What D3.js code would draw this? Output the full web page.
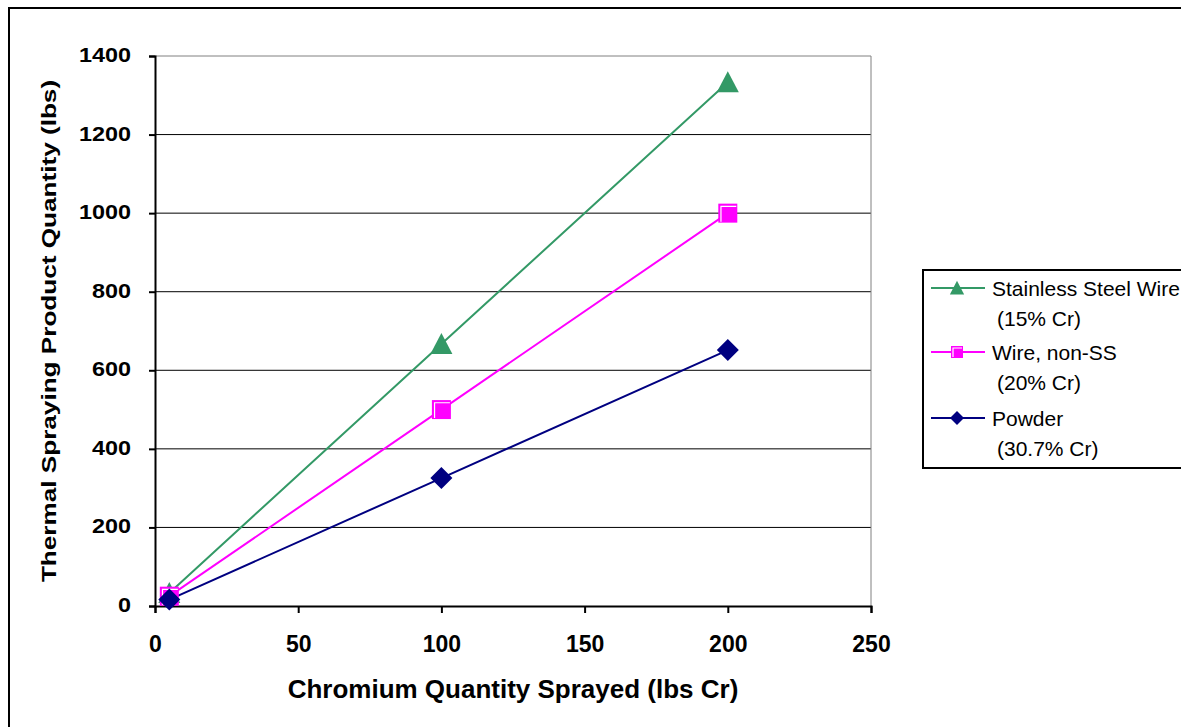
<!DOCTYPE html>
<html>
<head>
<meta charset="utf-8">
<script src="https://cdn.jsdelivr.net/npm/d3@7"></script>
<style>
  body { margin: 0; background: #fff; }
  svg { display: block; font-family: "Liberation Sans", Arial, sans-serif; }
</style>
</head>
<body>
<div class="container"></div>
<script>
// data
const crSprayed = [5, 100, 200]
const stainless = [33.3, 666.7, 1333.3]
const wireNonSS = [25, 500, 1000]
const powder = [16.3, 325.7, 651.5]

const xTicks = [0, 50, 100, 150, 200, 250]
const yTicks = [0, 200, 400, 600, 800, 1000, 1200, 1400]

const series = [
  { name: "Stainless Steel Wire", sub: "(15% Cr)", values: stainless, color: "#339966", marker: "triangle" },
  { name: "Wire, non-SS", sub: "(20% Cr)", values: wireNonSS, color: "#ff00ff", marker: "square" },
  { name: "Powder", sub: "(30.7% Cr)", values: powder, color: "#000080", marker: "diamond" }
]

const w = 1181
const h = 727
const plot = { left: 155, top: 56, right: 871, bottom: 606 }

const svg = d3.select('.container')
  .append('svg')
  .attr('width', w)
  .attr('height', h)

// outer chart border
svg.append('rect')
  .attr('x', 9).attr('y', 8)
  .attr('width', w).attr('height', h)
  .attr('fill', 'none')
  .attr('stroke', '#000')
  .attr('stroke-width', 2)

const xScale = d3.scaleLinear().domain([0, 250]).range([plot.left, plot.right])
const yScale = d3.scaleLinear().domain([0, 1400]).range([plot.bottom, plot.top])

// gridlines
svg.append('g')
  .selectAll('line')
  .data(yTicks.filter(d => d > 0))
  .enter()
  .append('line')
  .attr('x1', plot.left).attr('x2', plot.right)
  .attr('y1', d => yScale(d)).attr('y2', d => yScale(d))
  .attr('stroke', d => d === 1400 ? '#808080' : '#000')
  .attr('stroke-width', 1)

// plot area right border (gray)
svg.append('line')
  .attr('x1', plot.right).attr('x2', plot.right)
  .attr('y1', plot.top).attr('y2', plot.bottom)
  .attr('stroke', '#808080')

// axes
const yAxis = d3.axisLeft(yScale).tickValues(yTicks).tickSize(6).tickPadding(0).tickFormat(d3.format('d'))
const xAxis = d3.axisBottom(xScale).tickValues(xTicks).tickSize(7).tickPadding(0).tickFormat(d3.format('d'))

const gy = svg.append('g')
  .attr('transform', 'translate(' + plot.left + ',0)')
  .call(yAxis)
const gx = svg.append('g')
  .attr('transform', 'translate(0,' + plot.bottom + ')')
  .call(xAxis)

;[gx, gy].forEach(g => {
  g.select('.domain').attr('stroke', '#000').attr('stroke-width', 2)
  g.selectAll('.tick line').attr('stroke', '#000').attr('stroke-width', 2)
  g.selectAll('.tick text')
    .attr('fill', '#000')
    .style('font-family', '"Liberation Sans", Arial, sans-serif')
    .style('font-weight', 'bold')
})
// y labels are a bit wider than tall in the original
gy.selectAll('.tick text')
  .attr('x', null).attr('dy', null)
  .attr('transform', 'translate(-24,5.5) scale(1.17,1)')
  .style('font-size', '20px')
gx.selectAll('.tick text')
  .attr('y', 46).attr('dy', null)
  .style('font-size', '23px')

// axis titles
svg.append('text')
  .text('Chromium Quantity Sprayed (lbs Cr)')
  .attr('x', (plot.left + plot.right) / 2)
  .attr('y', 698)
  .attr('text-anchor', 'middle')
  .style('font-size', '26px')
  .style('font-weight', 'bold')

svg.append('text')
  .text('Thermal Spraying Product Quantity (lbs)')
  .attr('transform', 'translate(56,' + ((plot.top + plot.bottom) / 2) + ') rotate(-90) scale(1.34,1)')
  .attr('text-anchor', 'middle')
  .style('font-size', '19.5px')
  .style('font-weight', 'bold')

// markers
const drawMarker = (g, type, color, cx, cy, s) => {
  if (type === 'triangle') {
    g.append('path')
      .attr('d', `M${cx},${cy - s * 0.55}L${cx + s * 0.55},${cy + s * 0.5}L${cx - s * 0.55},${cy + s * 0.5}Z`)
      .attr('fill', color)
  } else if (type === 'square') {
    const hs = s / 2
    g.append('rect')
      .attr('x', cx - hs).attr('y', cy - hs)
      .attr('width', hs * 2).attr('height', hs * 2)
      .attr('fill', color)
    const inset = Math.max(2, s * 0.14)
    g.append('path')
      .attr('d', `M${cx - hs + inset},${cy + hs - 1}V${cy - hs + inset}H${cx + hs - 1}`)
      .attr('fill', 'none')
      .attr('stroke', '#fff')
      .attr('stroke-width', 1.2)
  } else {
    const r = s / 2
    g.append('path')
      .attr('d', `M${cx},${cy - r}L${cx + r},${cy}L${cx},${cy + r}L${cx - r},${cy}Z`)
      .attr('fill', color)
  }
}

const line = d3.line()
  .x((d, i) => xScale(crSprayed[i]))
  .y(d => yScale(d))

const sizes = { triangle: 20, square: 19, diamond: 22 }
const legendSizes = { triangle: 13, square: 12, diamond: 14 }

series.forEach(s => {
  svg.append('path')
    .attr('d', line(s.values))
    .attr('fill', 'none')
    .attr('stroke', s.color)
    .attr('stroke-width', 2)
})
series.forEach(s => {
  const g = svg.append('g')
  s.values.forEach((v, i) => {
    drawMarker(g, s.marker, s.color, xScale(crSprayed[i]), yScale(v), sizes[s.marker])
  })
})

// legend
const legend = svg.append('g').attr('id', 'legend')
legend.append('rect')
  .attr('x', 923).attr('y', 270)
  .attr('width', 300).attr('height', 198)
  .attr('fill', '#fff')
  .attr('stroke', '#000')
  .attr('stroke-width', 2)

const rowY = [288, 352, 418]
series.forEach((s, i) => {
  const y = rowY[i]
  legend.append('line')
    .attr('x1', 931).attr('x2', 985)
    .attr('y1', y).attr('y2', y)
    .attr('stroke', s.color)
    .attr('stroke-width', 2)
  drawMarker(legend, s.marker, s.color, 957, y, legendSizes[s.marker])
  legend.append('text')
    .text(s.name)
    .attr('x', 992).attr('y', y + 8)
    .style('font-size', '21px')
  legend.append('text')
    .text(s.sub)
    .attr('x', 997).attr('y', y + 38)
    .style('font-size', '21px')
})
</script>
</body>
</html>
